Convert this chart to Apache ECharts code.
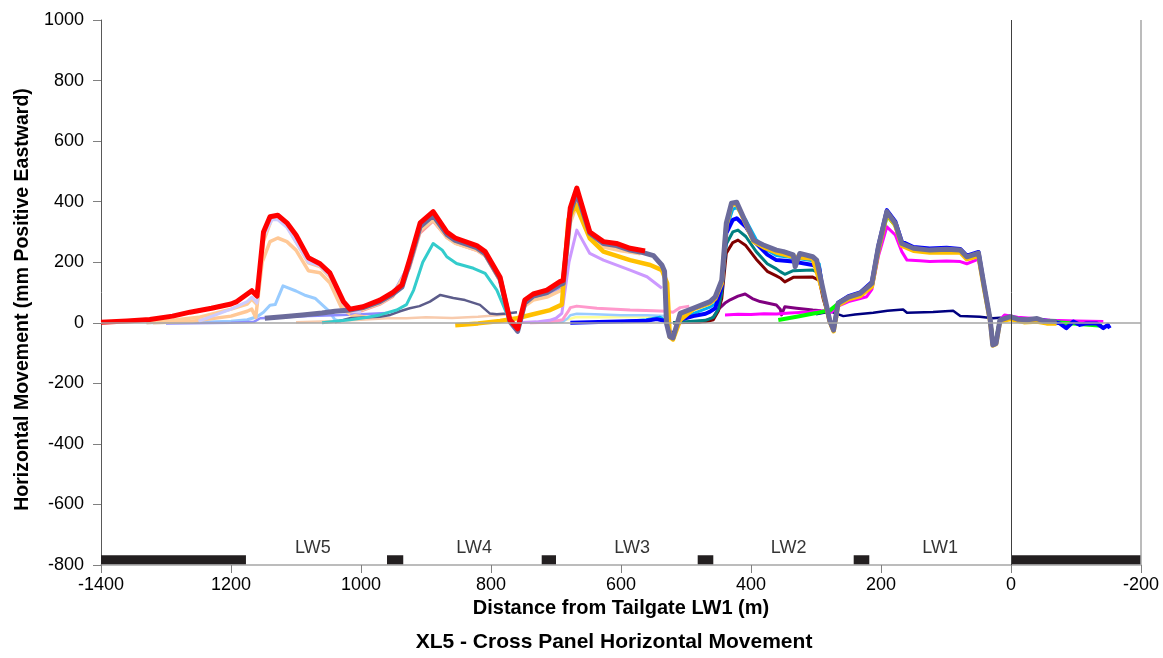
<!DOCTYPE html>
<html lang="en">
<head>
<meta charset="UTF-8">
<title>XL5 - Cross Panel Horizontal Movement</title>
<style>
  html, body { margin: 0; padding: 0; background: #fff; }
  #chart { width: 1163px; height: 658px; }
</style>
</head>
<body>
<div id="chart"></div>
<script src="https://cdn.jsdelivr.net/npm/echarts@6/dist/echarts.min.js"></script>
<script>
// axis ticks
var xTicks = [1400, 1200, 1000, 800, 600, 400, 200, 0, -200];
var yTicks = [-800, -600, -400, -200, 0, 200, 400, 600, 800, 1000];

// panels and pillars along the bottom
var panels = ['LW5', 'LW4', 'LW3', 'LW2', 'LW1'];
var panelMid = [1074, 826, 583, 342, 109];
var pillars = [[1400, 1177], [960, 935], [722, 700], [482, 458], [242, 218], [0, -200]];

// survey lines: [distance (m), movement (mm)]
var lw4Faint = [[1100,2],[1050,5],[1000,10],[960,15],[930,15],[900,18],[860,16],[820,20],[790,25],[770,28]];
var lw5LightBlue = [[1330,0],[1250,2],[1200,5],[1175,10],[1160,20],[1150,35],[1140,58],[1132,60],[1120,122],[1100,105],[1085,90],[1070,80],[1050,40],[1040,10],[1030,3]];
var lw5Periwinkle = [[1300,-2],[1200,0],[1165,3],[1155,15],[1120,18],[1080,22],[1040,25],[1000,28],[960,32]];
var lw5Peach2 = [[1320,0],[1260,5],[1200,22],[1175,38],[1168,45],[1162,18],[1152,200],[1140,268],[1128,280],[1114,268],[1100,240],[1081,172],[1063,165],[1048,132],[1030,50],[1015,25],[990,18]];
var lw3Yellow = [[700,2],[680,12],[670,18],[620,18],[570,20],[530,18]];
var lw3LightBlue = [[720,0],[690,3],[682,15],[678,25],[668,30],[640,28],[600,25],[560,25],[530,22]];
var lw3Pink = [[740,0],[710,2],[690,10],[682,35],[678,50],[668,55],[637,48],[586,42],[550,40],[530,38],[520,35],[509,50],[495,55]];
var lw3Lavender = [[760,0],[730,3],[710,8],[700,15],[691,31],[680,200],[668,306],[648,229],[627,207],[586,174],[560,152],[537,114]];
var lw4Slate = [[1040,2],[1017,15],[990,18],[971,20],[955,26],[940,38],[925,48],[910,55],[894,70],[878,92],[858,82],[840,75],[817,59],[802,31],[791,28],[776,31],[760,35]];
var lw4Teal = [[1060,0],[1017,10],[990,18],[971,26],[945,42],[930,60],[919,108],[905,200],[889,262],[875,240],[868,218],[853,196],[827,180],[809,163],[791,108],[776,31],[769,4],[760,-10]];
var lw4Salmon = [[1017,30],[997,40],[971,60],[951,85],[925,180],[909,295],[889,335],[868,280],[855,262],[822,238],[809,220],[786,135],[771,0],[759,-25],[748,60],[735,80],[714,90],[694,115],[689,120],[678,345],[668,410],[648,290],[627,258],[607,250],[586,236],[570,232]];
var lw4Periwinkle = [[1017,30],[997,45],[971,65],[951,92],[925,195],[909,310],[889,345],[868,285],[855,268],[822,245],[809,225],[786,140],[771,0],[759,-30],[748,60],[735,80],[714,92],[694,118]];
var lw5Peach1 = [[1330,0],[1290,8],[1250,18],[1200,45],[1175,62],[1168,78],[1160,60],[1150,270],[1137,345],[1128,348],[1114,320],[1081,198],[1063,186],[1048,152],[1027,58],[1017,36],[997,44],[971,64],[951,90],[925,190],[909,305],[889,340],[868,282],[855,262],[822,240],[809,222],[786,138],[771,0],[759,-25],[748,55],[735,75],[714,85],[694,105],[689,110],[678,330],[668,390],[648,285],[627,250],[600,238],[570,228]];
var lw5Lavender = [[1250,5],[1200,45],[1175,70],[1168,85],[1160,65],[1150,285],[1137,340],[1128,340],[1114,315],[1081,200],[1063,188],[1048,155],[1027,62],[1017,40],[1000,35]];
var lw2Purple = [[520,0],[480,2],[465,10],[458,18],[450,45],[440,65],[432,76],[420,88],[409,95],[398,80],[386,70],[361,59],[355,45],[353,26],[348,53],[330,48],[305,42],[292,40]];
var lw2DarkRed = [[520,0],[470,3],[458,10],[450,40],[445,80],[438,230],[428,265],[420,273],[408,255],[392,210],[375,170],[361,155],[355,148],[348,135],[335,150],[305,151],[295,140],[289,80],[279,5],[273,-18],[268,20]];
var lw2Teal = [[520,0],[470,8],[458,18],[450,45],[445,100],[438,260],[428,300],[420,306],[408,285],[392,235],[375,195],[361,178],[355,169],[348,160],[335,172],[305,174],[295,165],[289,90],[279,5],[273,-20],[268,25]];
var lw2Cyan = [[600,3],[561,10],[540,18],[530,5],[525,-30],[518,-35],[509,20],[489,30],[463,52],[455,62],[445,125],[438,310],[428,375],[422,380],[408,340],[392,275],[375,240],[361,222],[335,215],[305,205],[295,195],[289,100],[279,5],[273,-22],[266,62]];
var lw1Navy = [[300,28],[290,32],[277,37],[258,22],[240,27],[212,33],[190,40],[166,44],[160,33],[120,36],[89,40],[78,22],[48,20],[28,15],[17,17],[0,10]];
var lw1Magenta = [[440,26],[420,28],[400,27],[380,30],[361,29],[340,32],[310,36],[290,40],[276,35],[266,55],[250,70],[232,80],[222,86],[214,110],[204,220],[191,317],[178,290],[168,235],[160,207],[140,205],[125,202],[99,204],[78,202],[68,195],[50,210],[42,120],[32,8],[28,-60],[23,-55],[17,10],[10,26],[-10,18],[-30,15],[-60,8],[-100,6],[-142,4]];
var lw1Green = [[358,9],[330,20],[300,32],[278,42],[268,59],[250,80],[232,92],[214,122],[204,240],[191,355],[178,322],[168,258],[150,242],[125,236],[99,240],[78,238],[68,215],[50,228],[42,125],[32,8],[28,-65],[23,-60],[17,8],[1,15],[-30,8],[-70,2],[-100,-3],[-140,-10]];
var allBlue = [[678,0],[620,3],[561,7],[545,12],[530,5],[525,-30],[518,-35],[509,10],[489,22],[470,30],[463,37],[455,48],[445,119],[438,296],[428,340],[422,345],[408,317],[392,262],[375,225],[361,207],[335,202],[305,191],[295,180],[289,100],[279,5],[273,-25],[266,66],[250,88],[232,100],[214,135],[204,255],[191,372],[178,335],[168,268],[150,250],[125,245],[99,248],[78,244],[68,222],[50,234],[42,130],[32,8],[28,-70],[23,-65],[17,8],[1,18],[-20,8],[-40,10],[-60,5],[-75,-2],[-85,-18],[-96,4],[-106,-7],[-116,-2],[-132,-2],[-142,-18],[-149,-7],[-152,-18]];
var allOrange = [[855,-8],[820,-2],[786,6],[760,15],[735,28],[709,42],[691,60],[681,340],[670,390],[660,340],[648,279],[627,235],[586,207],[555,191],[537,174],[529,130],[525,-46],[520,-55],[509,9],[489,45],[463,65],[455,80],[445,130],[438,320],[430,390],[422,392],[412,345],[396,268],[381,250],[361,232],[335,218],[305,212],[289,100],[279,5],[273,-28],[266,58],[250,78],[232,88],[214,120],[204,240],[191,360],[178,322],[168,255],[150,238],[125,232],[99,233],[78,232],[68,210],[50,220],[42,120],[32,5],[28,-75],[23,-70],[17,5],[1,12],[-20,2],[-40,4],[-55,-2],[-70,-2]];
var allGrey = [[1148,15],[1120,20],[1090,26],[1060,32],[1040,38],[1017,42],[997,50],[971,70],[951,95],[937,118],[925,200],[909,318],[889,355],[868,292],[855,272],[822,248],[809,228],[786,145],[771,5],[759,-28],[748,65],[735,88],[714,100],[694,126],[689,130],[678,365],[668,428],[648,296],[627,262],[607,255],[586,240],[566,232],[550,222],[537,190],[533,170],[530,-2],[525,-46],[520,-50],[509,31],[489,48],[463,70],[455,86],[445,141],[438,329],[430,395],[422,398],[412,350],[396,273],[381,257],[361,240],[350,235],[335,224],[332,185],[325,229],[305,218],[299,207],[289,108],[279,9],[273,-24],[266,64],[250,85],[232,97],[214,130],[204,251],[191,367],[178,329],[168,262],[150,246],[125,240],[99,243],[78,240],[68,218],[50,230],[42,130],[32,9],[28,-73],[23,-68],[17,9],[1,20],[-10,12],[-25,10],[-40,14],[-50,6],[-70,4]];
var allRed = [[1400,2],[1360,6],[1325,11],[1290,22],[1263,35],[1230,48],[1200,62],[1191,70],[1175,95],[1168,106],[1160,88],[1150,300],[1140,350],[1128,355],[1114,330],[1100,290],[1081,215],[1063,195],[1048,165],[1027,70],[1017,45],[997,53],[971,75],[951,100],[937,125],[925,210],[909,330],[889,367],[868,300],[855,280],[822,255],[809,235],[786,150],[771,10],[759,-20],[748,75],[735,95],[714,108],[694,136],[689,140],[678,380],[668,445],[648,300],[627,268],[607,262],[586,246],[563,237]];

var lines = [
  [lw4Faint, '#F8CBAD', 2.5],
  [lw5LightBlue, '#99CCFF', 3],
  [lw5Periwinkle, '#8C8CFF', 2.5],
  [lw5Peach2, '#FFC896', 3.5],
  [lw3Yellow, '#FFFF99', 2.5],
  [lw3LightBlue, '#99CCFF', 2.5],
  [lw3Pink, '#FF99CC', 3],
  [lw3Lavender, '#CC99FF', 3],
  [lw4Slate, '#5C5C8A', 2.5],
  [lw4Teal, '#33CCCC', 3],
  [lw4Salmon, '#FF9999', 2.5],
  [lw4Periwinkle, '#9999FF', 3.5],
  [lw5Peach1, '#FFCC99', 3.5],
  [lw5Lavender, '#CCCCFF', 3],
  [lw2Purple, '#800080', 3],
  [lw2DarkRed, '#800000', 3],
  [lw2Teal, '#008080', 3],
  [lw2Cyan, '#00B0F0', 3],
  [lw1Navy, '#000080', 2.5],
  [lw1Magenta, '#FF00FF', 3],
  [lw1Green, '#00FF00', 4],
  [allBlue, '#0000FF', 4],
  [allOrange, '#FFC000', 4.5],
  [allGrey, '#6B6B9B', 5],
  [allRed, '#FF0000', 5]
];

var font = '"Liberation Sans", Arial, sans-serif';
var chart = echarts.init(document.getElementById('chart'));

var series = [];
lines.forEach(function (l) {
  series.push({
    type: 'line',
    data: l[0],
    showSymbol: false,
    symbol: 'none',
    silent: true,
    lineStyle: { color: l[1], width: l[2], join: 'round' },
    z: 3
  });
});

// pillars drawn as thick black strips at the bottom
pillars.forEach(function (p) {
  series.push({
    type: 'line',
    data: [[p[0], -783], [p[1], -783]],
    showSymbol: false,
    symbol: 'none',
    silent: true,
    lineStyle: { color: '#231F20', width: 9, cap: 'butt' },
    z: 4
  });
});

// panel names
series.push({
  type: 'scatter',
  symbolSize: 0,
  silent: true,
  data: panels.map(function (n, i) { return { name: n, value: [panelMid[i], -744] }; }),
  label: {
    show: true, position: 'inside', formatter: '{b}',
    fontFamily: font, fontSize: 18, color: '#000'
  },
  // reference lines: zero, x = 0 and right edge
  markLine: {
    silent: true, symbol: 'none', label: { show: false },
    data: [
      { yAxis: 0, lineStyle: { color: '#A6A6A6', width: 1.5, type: 'solid' } },
      { xAxis: 0, lineStyle: { color: '#404040', width: 1, type: 'solid' } },
      { xAxis: -200, lineStyle: { color: '#A6A6A6', width: 1.5, type: 'solid' } }
    ]
  },
  z: 2
});

chart.setOption({
  animation: false,
  backgroundColor: '#fff',
  grid: { left: 101, right: 22, top: 20, bottom: 93 },
  xAxis: {
    type: 'value',
    inverse: true,
    min: xTicks[xTicks.length - 1],
    max: xTicks[0],
    interval: 200,
    name: 'Distance from Tailgate LW1 (m)',
    nameLocation: 'middle',
    nameGap: 32,
    nameTextStyle: { fontFamily: font, fontSize: 20, fontWeight: 'bold', color: '#000' },
    axisLine: { onZero: false, lineStyle: { color: '#A6A6A6', width: 1.5 } },
    axisTick: { length: 8, lineStyle: { color: '#808080' } },
    axisLabel: {
      margin: 11, fontFamily: font, fontSize: 18, color: '#000',
      formatter: function (v) { return v === xTicks[0] ? '-' + v : String(v); }
    },
    splitLine: { show: false }
  },
  yAxis: {
    type: 'value',
    min: yTicks[0],
    max: yTicks[yTicks.length - 1],
    interval: 200,
    name: 'Horizontal Movement (mm Positive Eastward)',
    nameLocation: 'middle',
    nameGap: 63,
    nameTextStyle: { fontFamily: font, fontSize: 19.5, fontWeight: 'bold', color: '#000', padding: [0, 14, 0, 0] },
    axisLine: { show: true, onZero: false, lineStyle: { color: '#595959', width: 1 } },
    axisTick: { show: true, length: 8, lineStyle: { color: '#808080' } },
    axisLabel: {
      margin: 17, fontFamily: font, fontSize: 18, color: '#000',
      formatter: function (v) { return String(v); }
    },
    splitLine: { show: false }
  },
  graphic: [{
    type: 'text',
    x: 614,
    y: 642,
    style: {
      text: 'XL5 - Cross Panel Horizontal Movement',
      font: 'bold 21px ' + font,
      fill: '#000',
      align: 'center',
      verticalAlign: 'middle'
    }
  }],
  series: series
});
</script>
</body>
</html>
